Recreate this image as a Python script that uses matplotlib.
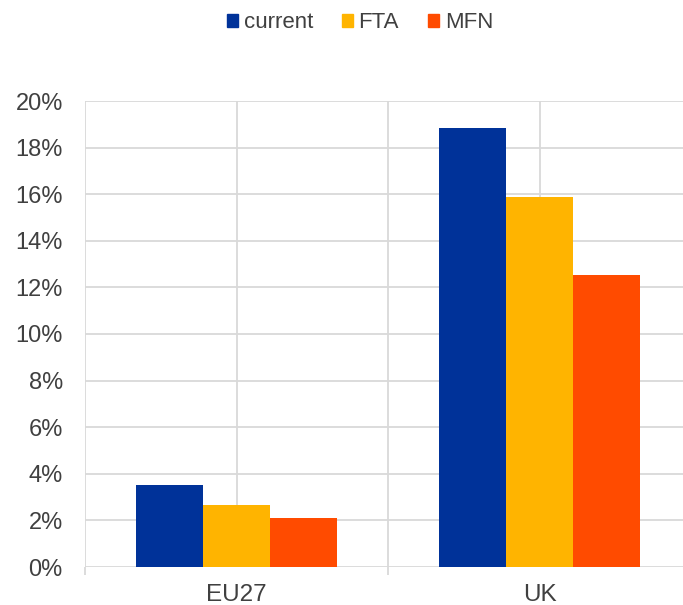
import numpy as np
import matplotlib
matplotlib.use("Agg")
import matplotlib.pyplot as plt
from matplotlib.patches import Patch
from matplotlib.ticker import FuncFormatter

plt.rcParams['font.family'] = ['Liberation Sans', 'DejaVu Sans']

regions = ['EU27', 'UK']
series_names = ['current', 'FTA', 'MFN']
current = [3.5, 18.85]
fta = [2.65, 15.9]
mfn = [2.12, 12.55]
colors = ['#003299', '#FFB400', '#FF4B00']

fig = plt.figure(figsize=(6.83, 6.05), dpi=100)
ax = fig.add_axes([85 / 683, 38 / 605, 606 / 683, 466 / 605])

x = np.arange(len(regions))
w = 0.222
for i, (vals, c) in enumerate(zip([current, fta, mfn], colors)):
    ax.bar(x + (i - 1) * w, vals, w, color=c, zorder=3)

ax.set_ylim(0, 20)
ax.set_xlim(-0.5, 1.5)
ax.set_yticks(np.arange(0, 21, 2))
ax.yaxis.set_major_formatter(FuncFormatter(lambda v, p: '%d%%' % v))

# boundaries as major ticks, category centres as minor ticks with labels
ax.set_xticks([-0.5, 0.5, 1.5])
ax.set_xticklabels([])
ax.set_xticks(x, minor=True)
ax.set_xticklabels(regions, minor=True)
ax.tick_params(axis='x', which='major', length=6, width=1.3, color='#d9d9d9')
ax.tick_params(axis='x', which='minor', length=0, pad=12, labelsize=17.5, labelcolor='#404040')
ax.tick_params(axis='y', length=0, pad=16, labelsize=17, labelcolor='#404040')

ax.grid(True, which='both', color='#d9d9d9', linewidth=1.3, zorder=0)
for s in ax.spines.values():
    s.set_visible(False)

handles = [Patch(color=c) for c in colors]
fig.legend(handles, series_names, loc='center', bbox_to_anchor=(360 / 683, 1 - 23 / 605),
           ncol=3, frameon=False, fontsize=16, handlelength=0.5, handleheight=0.5,
           handletextpad=0.25, columnspacing=1.3, labelcolor='#404040')

fig.savefig('out.png', dpi=100)
